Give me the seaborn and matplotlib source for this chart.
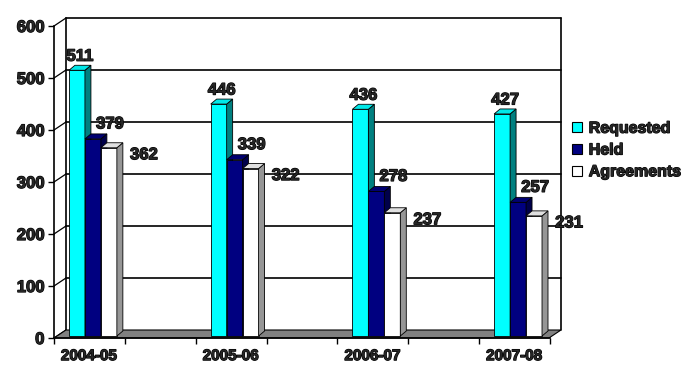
import pandas as pd
import matplotlib
matplotlib.use("Agg")
import matplotlib.pyplot as plt
import matplotlib.patheffects as pe
import matplotlib.transforms as mtransforms
from matplotlib.patches import Polygon
from matplotlib.lines import Line2D
import seaborn as sns

# data
periods = ['2004-05', '2005-06', '2006-07', '2007-08']
series_names = ['Requested', 'Held', 'Agreements']
requested = [511, 446, 436, 427]
held = [379, 339, 278, 257]
agreements = [362, 322, 237, 231]
y_ticks = [0, 100, 200, 300, 400, 500, 600]

front_cols = ['#00FFFF', '#000080', '#FFFFFF']
side_cols = ['#008080', '#00004A', '#969696']
top_cols = ['#00E8E8', '#000070', '#E0E0E0']

df = pd.DataFrame({
    'period': periods * 3,
    'series': [s for s in series_names for _ in periods],
    'count': requested + held + agreements,
})

sns.set_style('white')
plt.rcParams['font.family'] = ['Liberation Sans', 'DejaVu Sans']
plt.rcParams['font.weight'] = 'bold'

W, H = 700, 385
fig = plt.figure(figsize=(W / 100, H / 100), dpi=100)
# front plane of the 3d box, in pixels
left_px, right_px, bot_px, top_px = 54, 550, 338, 26
ax = fig.add_axes([left_px / W, (H - bot_px) / H,
                   (right_px - left_px) / W, (bot_px - top_px) / H])

sns.barplot(data=df, x='period', y='count', hue='series', order=periods,
            hue_order=series_names, palette=front_cols, saturation=1,
            width=0.338, edgecolor='black', linewidth=0.6, legend=False, ax=ax)

cat_px = 142.0
x0 = (left_px - 93) / cat_px
x1 = x0 + (right_px - left_px) / cat_px
ax.set_xlim(x0, x1)
ax.set_ylim(0, 600)

ux = (x1 - x0) / (right_px - left_px)   # data per pixel
uy = 600 / (bot_px - top_px)

stroke = [pe.withStroke(linewidth=0.9, foreground='black')]

# back wall offset
bx, by = 12 * ux, 8 * uy
for v in y_ticks[1:]:
    ax.plot([x0 + bx, x1 + bx], [v + by, v + by], color='black', lw=1.2,
            zorder=0.5, clip_on=False)
for v in y_ticks:
    ax.plot([x0, x0 + bx], [v, v + by], color='black', lw=0.9,
            zorder=0.5, clip_on=False)
for xx in (x0 + bx, x1 + bx):
    ax.plot([xx, xx], [by, 600 + by], color='black', lw=1.2,
            zorder=0.5, clip_on=False)

# floor
floor = Polygon([(x0, 0), (x1, 0), (x1 + bx, by), (x0 + bx, by)],
                closed=True, facecolor='#808080', edgecolor='black', lw=0.8,
                zorder=1, clip_on=False)
ax.add_patch(floor)

# bar depth; bars stand a little back on the floor
lift = mtransforms.ScaledTranslation(0, 2 / 100, fig.dpi_scale_trans)
dx, dy = 6 * ux, 5 * uy
for i, cont in enumerate(ax.containers):
    z = 3 + i * 0.1
    for bar in cont:
        bx0 = bar.get_x()
        w = bar.get_width()
        h = bar.get_height()
        bar.set_zorder(z)
        bar.set_transform(ax.transData + lift)
        side = Polygon([(bx0 + w, 0), (bx0 + w, h), (bx0 + w + dx, h + dy),
                        (bx0 + w + dx, dy)], closed=True,
                       facecolor=side_cols[i], edgecolor='black', lw=0.6,
                       zorder=z + 0.02, clip_on=False,
                       transform=ax.transData + lift)
        top = Polygon([(bx0, h), (bx0 + w, h), (bx0 + w + dx, h + dy),
                       (bx0 + dx, h + dy)], closed=True,
                      facecolor=top_cols[i], edgecolor='black', lw=0.6,
                      zorder=z + 0.03, clip_on=False,
                      transform=ax.transData + lift)
        ax.add_patch(side)
        ax.add_patch(top)

# data labels
label_off = [(3, 16), (17, 17), (35, -5)]
for i, cont in enumerate(ax.containers):
    for bar in cont:
        h = bar.get_height()
        cx = bar.get_x() + bar.get_width() / 2
        t = ax.annotate(f'{int(round(h))}', xy=(cx, h), xytext=label_off[i],
                        textcoords='offset pixels', ha='center', va='center',
                        fontsize=12, fontweight='bold', zorder=10,
                        annotation_clip=False)
        t.set_path_effects(stroke)

# axes
for s in ['top', 'right']:
    ax.spines[s].set_visible(False)
for s in ['left', 'bottom']:
    ax.spines[s].set_color('black')
    ax.spines[s].set_linewidth(1.2)
ax.spines['bottom'].set_zorder(2)

ax.set_yticks(y_ticks)
ax.set_yticklabels([str(v) for v in y_ticks])
ax.tick_params(axis='y', direction='out', length=4, width=1, color='black',
               pad=3, labelsize=12, left=True)
ax.set_xticks(range(len(periods)))
ax.set_xticklabels(periods)
ax.set_xticks([x0 + 0.5 * k for k in range(8)], minor=True)
ax.tick_params(axis='x', which='major', length=0, pad=8, labelsize=11)
ax.tick_params(axis='x', which='minor', direction='out', length=4.5,
               width=1, color='black', bottom=True)
ax.set_xlabel('')
ax.set_ylabel('')
ax.grid(False)

shift = mtransforms.ScaledTranslation(-4 / 100, 0, fig.dpi_scale_trans)
for lab in ax.get_xticklabels():
    lab.set_transform(lab.get_transform() + shift)
    lab.set_path_effects(stroke)
for lab in ax.get_yticklabels():
    lab.set_path_effects(stroke)

# legend
handles = [Line2D([], [], marker='s', linestyle='none', markersize=7,
                  markerfacecolor=c, markeredgecolor='black',
                  markeredgewidth=0.8) for c in front_cols]
leg = fig.legend(handles, series_names, loc='center left',
                 bbox_to_anchor=(556 / W, 1 - 150 / H), frameon=False,
                 handlelength=0.8, handletextpad=0.35, labelspacing=0.42,
                 prop={'size': 11.5, 'weight': 'bold'})
for t in leg.get_texts():
    t.set_path_effects(stroke)

fig.savefig('out.png', dpi=100)
